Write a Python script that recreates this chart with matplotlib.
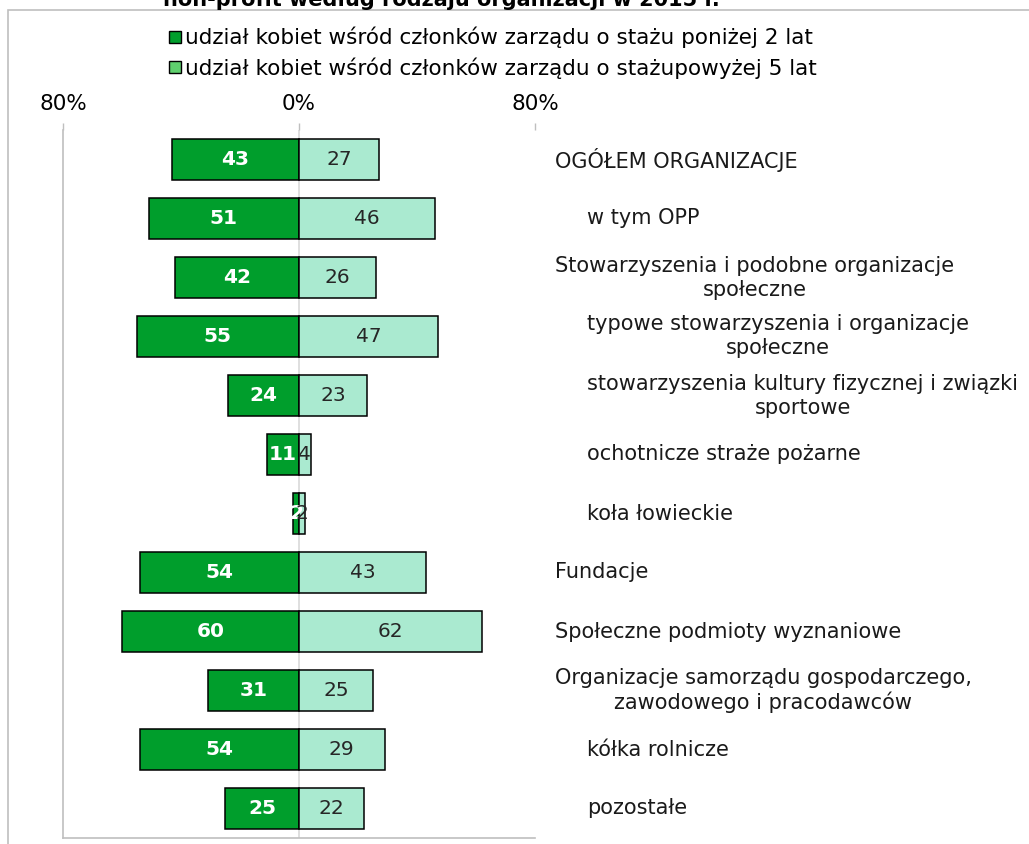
import matplotlib
matplotlib.use("Agg")
import matplotlib.pyplot as plt
import matplotlib.transforms as mtrans
from matplotlib.lines import Line2D
from matplotlib.patches import Rectangle

categories = [
    "OGÓŁEM ORGANIZACJE",
    "w tym OPP",
    "Stowarzyszenia i podobne organizacje\nspołeczne",
    "typowe stowarzyszenia i organizacje\nspołeczne",
    "stowarzyszenia kultury fizycznej i związki\nsportowe",
    "ochotnicze straże pożarne",
    "koła łowieckie",
    "Fundacje",
    "Społeczne podmioty wyznaniowe",
    "Organizacje samorządu gospodarczego,\nzawodowego i pracodawców",
    "kółka rolnicze",
    "pozostałe",
]
indented = [False, True, False, True, True, True, True, False, False, False, True, True]
below_2 = [43, 51, 42, 55, 24, 11, 2, 54, 60, 31, 54, 25]
above_5 = [27, 46, 26, 47, 23, 4, 2, 43, 62, 25, 29, 22]
series_names = [
    "udział kobiet wśród członków zarządu o stażu poniżej 2 lat",
    "udział kobiet wśród członków zarządu o stażupowyżej 5 lat",
]
tick_values = [-80, 0, 80]
tick_labels = ["80%", "0%", "80%"]
title_text = "non-profit według rodzaju organizacji w 2015 r."

W, H = 1029, 844
fig = plt.figure(figsize=(W / 100, H / 100), dpi=100)
fig.patch.set_facecolor("white")

# outer chart border
fig.add_artist(Rectangle((8 / W, -0.1), 1.2, 1 - 10 / H + 0.1, transform=fig.transFigure,
                         fill=False, edgecolor="#bfbfbf", linewidth=1.2))

fig.text(163 / W, 1 - 5.5 / H, title_text, fontsize=15, fontweight="bold",
         ha="left", va="baseline")

ax = fig.add_axes([63 / W, 1 - 838 / H, (535 - 63) / W, (838 - 130) / H])
dark = "#009e2c"
light = "#aaead0"
y = list(range(len(categories)))
neg = [-v for v in below_2]
ax.barh(y, neg, height=0.68, color=dark, edgecolor="black", linewidth=1.1, zorder=3)
ax.barh(y, above_5, height=0.68, color=light, edgecolor="black", linewidth=1.1, zorder=3)
ax.axvline(0, color="#d9d9d9", linewidth=1.2, zorder=1)

for i in y:
    ax.text(-below_2[i] / 2, i, str(below_2[i]), color="white", fontweight="bold",
            fontsize=14.5, ha="center", va="center", zorder=4)
    ax.text(above_5[i] / 2, i, str(above_5[i]), color="#262626",
            fontsize=14.5, ha="center", va="center", zorder=4)

ax.set_xlim(-80, 80)
ax.set_ylim(len(categories) - 0.5, -0.5)
ax.set_yticks([])
ax.xaxis.tick_top()
ax.set_xticks(tick_values)
ax.set_xticklabels(tick_labels, fontsize=15.5)
ax.tick_params(axis="x", direction="out", length=5, width=1, color="#bfbfbf", pad=6.5)
for s in ["top", "right"]:
    ax.spines[s].set_visible(False)
for s in ["left", "bottom"]:
    ax.spines[s].set_color("#bfbfbf")
    ax.spines[s].set_linewidth(1.2)

blend = mtrans.blended_transform_factory(fig.transFigure, ax.transData)
for i, (lab, ind) in enumerate(zip(categories, indented)):
    x_px = 587 if ind else 555
    ax.text(x_px / W, i, lab, transform=blend, fontsize=15,
            ha="left", va="center", multialignment="center", color="#1a1a1a",
            linespacing=1.25, clip_on=False)

# legend
handles = [Line2D([0], [0], marker="s", linestyle="none", markersize=9,
                  markerfacecolor=c, markeredgecolor="black", markeredgewidth=1)
           for c in [dark, "#5fd06e"]]
fig.legend(handles, series_names, loc="upper left", bbox_to_anchor=(158 / W, 1 - 16 / H),
           frameon=False, prop={"size": 15.5}, handlelength=0.6,
           handletextpad=0.15, labelspacing=0.42, borderpad=0)

fig.savefig("out.png", dpi=100)
